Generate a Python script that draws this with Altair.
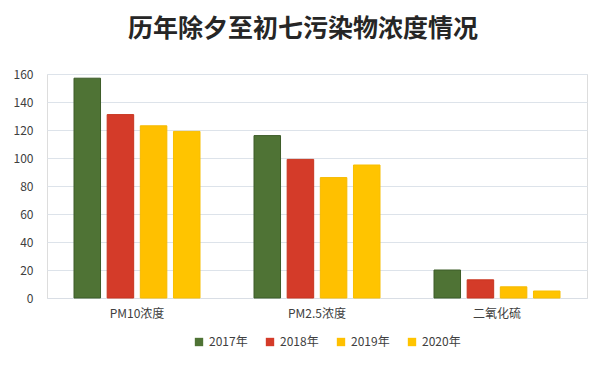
import altair as alt
import pandas as pd

categories = ["PM10浓度", "PM2.5浓度", "二氧化硫"]
years = ["2017年", "2018年", "2019年", "2020年"]
v2017 = [157, 116, 20]
v2018 = [131, 99, 13]
v2019 = [123, 86, 8]
v2020 = [119, 95, 5]
colors = ["#4F7335", "#D43B29", "#FFC000", "#FFC400"]
strokes = ["#3C5C28", "#C8351F", "#F5BA00", "#F8BE00"]

rows = []
for yr, vals in zip(years, [v2017, v2018, v2019, v2020]):
    for c, v in zip(categories, vals):
        rows.append({"category": c, "year": yr, "value": v})
df = pd.DataFrame(rows)

font = "Noto Sans CJK SC"

chart = alt.Chart(df).mark_bar(strokeWidth=1).encode(
    x=alt.X("category:N", sort=categories,
            scale=alt.Scale(paddingInner=0.3, paddingOuter=0.15),
            axis=alt.Axis(title=None, labelAngle=0, labelFontSize=12,
                          labelColor="#404040", labelPadding=10, ticks=False,
                          domain=True, domainColor="#D9DEE5", labelFont=font)),
    xOffset=alt.XOffset("year:N", sort=years,
                        scale=alt.Scale(paddingInner=0.2, paddingOuter=0)),
    y=alt.Y("value:Q", scale=alt.Scale(domain=[0, 160]),
            axis=alt.Axis(title=None, values=list(range(0, 161, 20)),
                          labelFontSize=12, labelColor="#404040", ticks=False,
                          domain=False, gridColor="#DDE3EA", labelPadding=14,
                          labelFont=font)),
    color=alt.Color("year:N", sort=years,
                    scale=alt.Scale(domain=years, range=colors),
                    legend=alt.Legend(title=None, orient="none", direction="horizontal",
                                      legendX=146, legendY=262,
                                      symbolType="square", symbolSize=70,
                                      labelFontSize=12, labelColor="#404040",
                                      columnPadding=16, labelFont=font,
                                      symbolStrokeWidth=0)),
    stroke=alt.Stroke("year:N", sort=years,
                      scale=alt.Scale(domain=years, range=strokes), legend=None),
).properties(
    width=540,
    height=224,
    title=alt.Title("历年除夕至初七污染物浓度情况", fontSize=25, font=font,
                    fontWeight="bold", color="#262626", anchor="middle",
                    offset=26, dx=-14),
).configure_view(stroke=None).configure(padding={"left": 5, "top": 9, "right": 5, "bottom": 5})

chart.save("out.html", embed_options={"renderer": "svg", "actions": False})
